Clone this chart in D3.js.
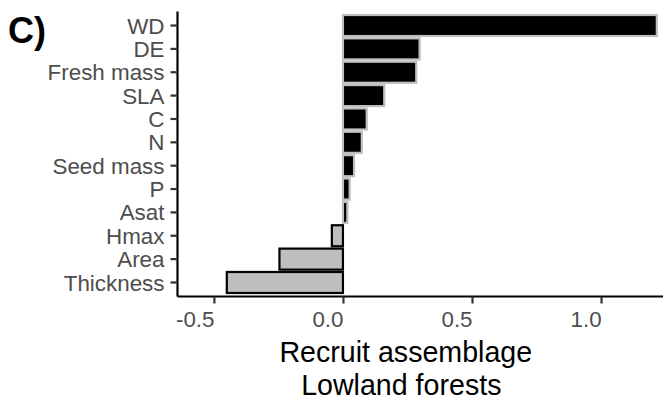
<!DOCTYPE html>
<html>
<head>
<meta charset="utf-8">
<script src="https://cdn.jsdelivr.net/npm/d3@7/dist/d3.min.js"></script>
<style>
  html, body { margin: 0; padding: 0; background: #fff; }
  svg { display: block; font-family: "Liberation Sans", Arial, Helvetica, sans-serif; }
</style>
</head>
<body>
<svg id="chart" width="664" height="406"></svg>
<script>
// Standardised trait effects for the recruit assemblage, lowland forests
const traits = ["WD", "DE", "Fresh mass", "SLA", "C", "N", "Seed mass", "P", "Asat", "Hmax", "Area", "Thickness"];
const effects = [1.216, 0.297, 0.284, 0.160, 0.092, 0.073, 0.043, 0.026, 0.017, -0.043, -0.246, -0.45];
const xTicks = [-0.5, 0.0, 0.5, 1.0];
const xTickLabels = ["-0.5", "0.0", "0.5", "1.0"];
const xDomain = [-0.641, 1.240];
const panelLabel = "C)";
const titleLines = ["Recruit assemblage", "Lowland forests"];

const rows = traits.map((t, i) => ({ trait: t, value: effects[i] }));

const svg = d3.select("#chart");
const panel = { left: 177.5, right: 663, top: 11.5, bottom: 296.5 };

const x = d3.scaleLinear().domain(xDomain).range([panel.left, panel.right]);
const y = d3.scaleBand()
  .domain(traits)
  .range([panel.top, panel.bottom])
  .paddingInner(0.1)
  .paddingOuter(0.15);

// bars: positive effects black with grey outline, negative grey with black outline
svg.append("g")
  .selectAll("rect")
  .data(rows)
  .join("rect")
  .attr("x", d => x(Math.min(0, d.value)))
  .attr("width", d => Math.abs(x(d.value) - x(0)))
  .attr("y", d => y(d.trait))
  .attr("height", y.bandwidth())
  .attr("fill", d => d.value >= 0 ? "#000000" : "#BEBEBE")
  .attr("stroke", d => d.value >= 0 ? "#BEBEBE" : "#000000")
  .attr("stroke-width", 2.2);

// y axis
const yAxis = svg.append("g")
  .attr("transform", `translate(${panel.left},0)`)
  .call(d3.axisLeft(y).tickSize(7).tickPadding(6).tickSizeOuter(0));
yAxis.select(".domain").attr("stroke", "#000").attr("stroke-width", 2.2)
  .attr("d", `M0,${panel.top}V${panel.bottom}`);
yAxis.selectAll(".tick line").attr("stroke", "#333").attr("stroke-width", 2.2);
yAxis.selectAll(".tick text")
  .attr("fill", "#4D4D4D")
  .style("font-size", "22.4px")
  .attr("dy", "0.36em");

// x axis
const xAxis = svg.append("g")
  .attr("transform", `translate(0,${panel.bottom})`)
  .call(d3.axisBottom(x).tickValues(xTicks).tickFormat((d, i) => xTickLabels[i]).tickSize(7).tickPadding(8).tickSizeOuter(0));
xAxis.select(".domain").attr("stroke", "#000").attr("stroke-width", 2.2)
  .attr("d", `M${panel.left},0H${panel.right}`);
xAxis.selectAll(".tick line").attr("stroke", "#333").attr("stroke-width", 2.2);
xAxis.selectAll(".tick text")
  .attr("fill", "#4D4D4D")
  .style("font-size", "22.3px")
  .attr("text-anchor", "end")
  .attr("dy", "0.71em");

// axis title, two lines
svg.append("text")
  .attr("x", 405.8).attr("y", 361.7)
  .attr("text-anchor", "middle")
  .style("font-size", "28.6px")
  .attr("fill", "#000")
  .text(titleLines[0]);
svg.append("text")
  .attr("x", 401.3).attr("y", 394.5)
  .attr("text-anchor", "middle")
  .style("font-size", "28.6px")
  .attr("fill", "#000")
  .text(titleLines[1]);

// panel tag
svg.append("text")
  .attr("x", 8).attr("y", 43)
  .style("font-size", "36px")
  .style("font-weight", "bold")
  .attr("fill", "#000")
  .text(panelLabel);
</script>
</body>
</html>
